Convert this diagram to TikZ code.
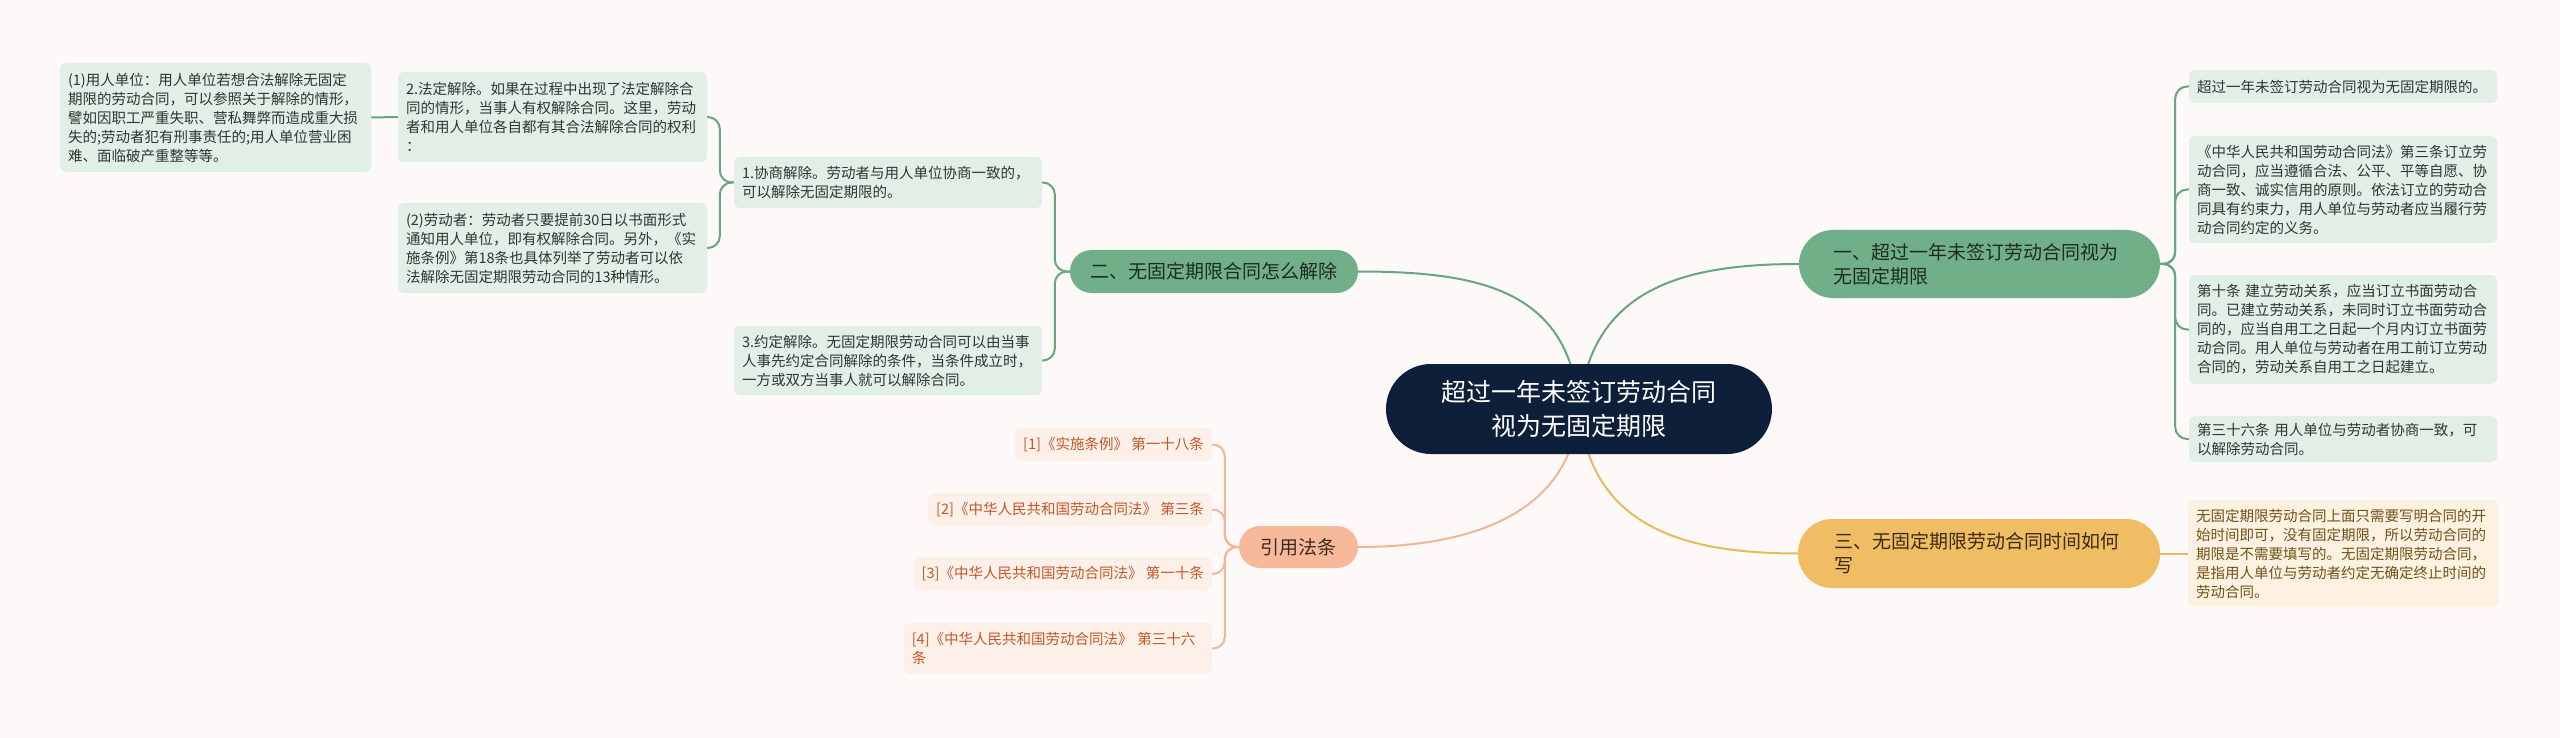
\documentclass[tikz,border=0pt]{standalone}
\usepackage{fontspec}
\setmainfont{Noto Sans CJK SC}
\usetikzlibrary{backgrounds}
\definecolor{bg}{HTML}{FDF9F8}
\definecolor{navy}{HTML}{0E1F3A}
\definecolor{gpill}{HTML}{70AF87}
\definecolor{gline}{HTML}{68A67F}
\definecolor{gleaf}{HTML}{E2EFE6}
\definecolor{gtext}{HTML}{1E2B24}
\definecolor{ypill}{HTML}{F0BD64}
\definecolor{yline}{HTML}{E9B95E}
\definecolor{yleaf}{HTML}{FDF2E2}
\definecolor{ytext}{HTML}{6E5118}
\definecolor{ybtext}{HTML}{3B2A0C}
\definecolor{spill}{HTML}{F8B99B}
\definecolor{sline}{HTML}{F2B697}
\definecolor{sleaf}{HTML}{FDF0E8}
\definecolor{stext}{HTML}{C2582A}
\definecolor{sbtext}{HTML}{3A2A20}
\definecolor{dtext}{HTML}{333333}
\tikzset{
  rootnode/.style={fill=navy, text=white, rounded corners=45, minimum width=386, minimum height=90,
    inner sep=0, align=center, font=\fontsize{25}{34}\selectfont},
  pill/.style={inner ysep=0, font=\fontsize{19}{24}\selectfont},
  leafbox/.style={rounded corners=6, inner xsep=8, inner ysep=0, align=left,
    font=\fontsize{14.5}{19}\selectfont},
  gleafbox/.style={leafbox, fill=gleaf, text=dtext},
  conn/.style={line width=2pt, line cap=round},
  bconn/.style={conn, rounded corners=12},
}
\begin{document}
\begin{tikzpicture}[x=1pt,y=-1pt]
\useasboundingbox (0,0) rectangle (2560,738);
% root
\node[rootnode] (root) at (1579,409) {超过一年未签订劳动合同\\视为无固定期限};
% branches
\node[pill, fill=gpill, text=gtext, rounded corners=34, minimum width=361, minimum height=68,
  inner xsep=34, text width=293, align=left] (b1) at (1979.5,264) {一、超过一年未签订劳动合同视为\\无固定期限};
\node[pill, fill=gpill, text=gtext, rounded corners=21.5, minimum width=288, minimum height=43,
  align=center] (b2) at (1214,271.5) {二、无固定期限合同怎么解除};
\node[pill, fill=ypill, text=ybtext, rounded corners=34, minimum width=362, minimum height=69,
  inner xsep=36, text width=290, align=left] (b3) at (1979,553.5) {三、无固定期限劳动合同时间如何\\写};
\node[pill, fill=spill, text=sbtext, rounded corners=21, minimum width=119, minimum height=42,
  align=center] (b4) at (1298.5,547) {引用法条};
% right leaves of b1
\node[gleafbox, text width=292, minimum height=33] (l1a) at (2343,86.5) {超过一年未签订劳动合同视为无固定期限的。};
\node[gleafbox, text width=292, minimum height=107] (l1b) at (2343,189.5) {《中华人民共和国劳动合同法》第三条订立劳\\动合同，应当遵循合法、公平、平等自愿、协\\商一致、诚实信用的原则。依法订立的劳动合\\同具有约束力，用人单位与劳动者应当履行劳\\动合同约定的义务。};
\node[gleafbox, text width=292, minimum height=109] (l1c) at (2343,329.5) {第十条~建立劳动关系，应当订立书面劳动合\\同。已建立劳动关系，未同时订立书面劳动合\\同的，应当自用工之日起一个月内订立书面劳\\动合同。用人单位与劳动者在用工前订立劳动\\合同的，劳动关系自用工之日起建立。};
\node[gleafbox, text width=292, minimum height=46] (l1d) at (2343,439) {第三十六条~用人单位与劳动者协商一致，可\\以解除劳动合同。};
% leaf of b3
\node[leafbox, fill=yleaf, text=ytext, text width=294, minimum height=107] (l3a) at (2343,553.5) {无固定期限劳动合同上面只需要写明合同的开\\始时间即可，没有固定期限，所以劳动合同的\\期限是不需要填写的。无固定期限劳动合同，\\是指用人单位与劳动者约定无确定终止时间的\\劳动合同。};
% left leaves of b2
\node[gleafbox, text width=292, minimum height=51] (l2a) at (888,182.5) {1.协商解除。劳动者与用人单位协商一致的，\\可以解除无固定期限的。};
\node[gleafbox, text width=292, minimum height=69] (l2b) at (888,360.5) {3.约定解除。无固定期限劳动合同可以由当事\\人事先约定合同解除的条件，当条件成立时，\\一方或双方当事人就可以解除合同。};
\node[gleafbox, text width=293, minimum height=90] (l2a1) at (552.5,117) {2.法定解除。如果在过程中出现了法定解除合\\同的情形，当事人有权解除合同。这里，劳动\\者和用人单位各自都有其合法解除合同的权利\\：};
\node[gleafbox, text width=293, minimum height=90] (l2a2) at (552.5,248) {(2)劳动者：劳动者只要提前30日以书面形式\\通知用人单位，即有权解除合同。另外，《实\\施条例》第18条也具体列举了劳动者可以依\\法解除无固定期限劳动合同的13种情形。};
\node[gleafbox, text width=295, minimum height=109] (l2a1a) at (215.5,117.5) {(1)用人单位：用人单位若想合法解除无固定\\期限的劳动合同，可以参照关于解除的情形，\\譬如因职工严重失职、营私舞弊而造成重大损\\失的;劳动者犯有刑事责任的;用人单位营业困\\难、面临破产重整等等。};
% references
\node[leafbox, fill=sleaf, text=stext, minimum height=33, anchor=east] (r1) at (1212,444.5) {[1]《实施条例》~第一十八条};
\node[leafbox, fill=sleaf, text=stext, minimum height=33, anchor=east] (r2) at (1212,509.5) {[2]《中华人民共和国劳动合同法》~第三条};
\node[leafbox, fill=sleaf, text=stext, minimum height=34, anchor=east] (r3) at (1212,574) {[3]《中华人民共和国劳动合同法》~第一十条};
\node[leafbox, fill=sleaf, text=stext, minimum height=51, text width=292, anchor=east] (r4) at (1212,648.5) {[4]《中华人民共和国劳动合同法》~第三十六\\条};

\begin{pgfonlayer}{background}
\fill[bg] (0,0) rectangle (2560,738);
% root connectors
\draw[conn, gline] (root.center) .. controls (1590,290) and (1680,264) .. (b1.west);
\draw[conn, gline] (root.center) .. controls (1570,290) and (1480,271.5) .. (b2.east);
\draw[conn, yline] (root.center) .. controls (1590,525) and (1680,553.5) .. (b3.west);
\draw[conn, sline] (root.center) .. controls (1570,520) and (1460,547) .. (b4.east);
% b1 leaves
\draw[bconn, gline] (b1.east) -- ++(15,0) |- (l1a.west);
\draw[bconn, gline] (b1.east) -- ++(15,0) |- (l1b.west);
\draw[bconn, gline] (b1.east) -- ++(15,0) |- (l1c.west);
\draw[bconn, gline] (b1.east) -- ++(15,0) |- (l1d.west);
% b3 leaf
\draw[conn, yline] (b3.east) -- (l3a.west);
% b2 leaves
\draw[bconn, gline] (b2.west) -- ++(-15,0) |- (l2a.east);
\draw[bconn, gline] (b2.west) -- ++(-15,0) |- (l2b.east);
\draw[bconn, gline] (l2a.west) -- ++(-14,0) |- (l2a1.east);
\draw[bconn, gline] (l2a.west) -- ++(-14,0) |- (l2a2.east);
\draw[conn, gline] (l2a1.west) -- (l2a1a.east);
% references
\draw[bconn, sline] (b4.west) -- ++(-14,0) |- (r1.east);
\draw[bconn, sline] (b4.west) -- ++(-14,0) |- (r2.east);
\draw[bconn, sline] (b4.west) -- ++(-14,0) |- (r3.east);
\draw[bconn, sline] (b4.west) -- ++(-14,0) |- (r4.east);
\end{pgfonlayer}
\end{tikzpicture}
\end{document}
